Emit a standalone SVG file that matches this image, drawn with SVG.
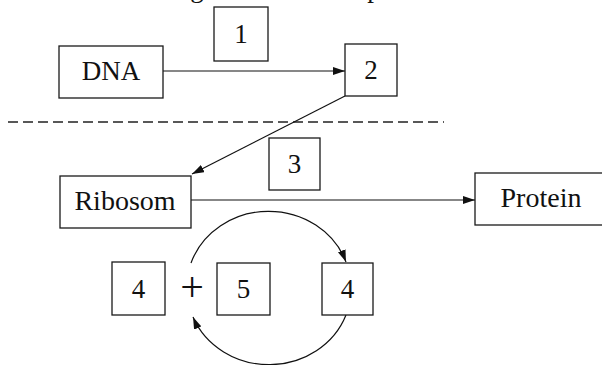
<svg xmlns="http://www.w3.org/2000/svg" width="602" height="365" viewBox="0 0 602 365">
<style>
  .box { fill: #fff; stroke: #1a1a1a; stroke-width: 1.3; }
  .lbl { font-family: "Liberation Serif", "Times New Roman", serif; font-size: 27px; fill: #111; text-anchor: middle; }
  .con { fill: none; stroke: #111; stroke-width: 1.2; }
  .dash { fill: none; stroke: #222; stroke-width: 1.3; stroke-dasharray: 10 5; }
</style>
<defs>
  <marker id="arr" viewBox="0 0 12 8" refX="12" refY="4" markerWidth="12" markerHeight="8" markerUnits="userSpaceOnUse" orient="auto">
    <path d="M0,0 L12,4 L0,8 z" fill="#111"/>
  </marker>
</defs>
<rect width="602" height="365" fill="#fff"/>

<g id="title-fragment">
  <text class="lbl" x="197" y="-3">g</text>
  <text class="lbl" x="374" y="-3">p</text>
</g>

<g id="connectors">
  <line class="dash" x1="8" y1="122" x2="444" y2="122"/>
  <path class="con" d="M163,71 L345,71" marker-end="url(#arr)"/>
  <path class="con" d="M345,96 L192,174" marker-end="url(#arr)"/>
  <path class="con" d="M191,200 L475,200" marker-end="url(#arr)"/>
  <path class="con" d="M191,263 A82,76 0 0 1 346,262" marker-end="url(#arr)"/>
  <path class="con" d="M346,315 A82,76 0 0 1 193,317" marker-end="url(#arr)"/>
</g>

<g id="node-dna">
  <rect class="box" x="59" y="46" width="104" height="52"/>
  <text class="lbl" x="111" y="80">DNA</text>
</g>
<g id="node-1">
  <rect class="box" x="214" y="7" width="54" height="54"/>
  <text class="lbl" x="241" y="43">1</text>
</g>
<g id="node-2">
  <rect class="box" x="345" y="44" width="52" height="52"/>
  <text class="lbl" x="371" y="79">2</text>
</g>
<g id="node-3">
  <rect class="box" x="269" y="138" width="51" height="52"/>
  <text class="lbl" x="294.5" y="173">3</text>
</g>
<g id="node-ribosom">
  <rect class="box" x="60" y="176" width="131" height="52"/>
  <text class="lbl" x="125" y="210" style="font-size:28px">Ribosom</text>
</g>
<g id="node-protein">
  <rect class="box" x="475" y="173" width="140" height="52"/>
  <text class="lbl" x="541" y="207" style="font-size:28px">Protein</text>
</g>
<g id="node-4a">
  <rect class="box" x="112" y="262" width="53" height="53"/>
  <text class="lbl" x="138.5" y="298">4</text>
</g>
<g id="node-plus">
  <text class="lbl" x="192" y="301" style="font-size:42px">+</text>
</g>
<g id="node-5">
  <rect class="box" x="217" y="263" width="53" height="52"/>
  <text class="lbl" x="243.5" y="298">5</text>
</g>
<g id="node-4b">
  <rect class="box" x="322" y="263" width="51" height="52"/>
  <text class="lbl" x="347.5" y="298">4</text>
</g>
</svg>
